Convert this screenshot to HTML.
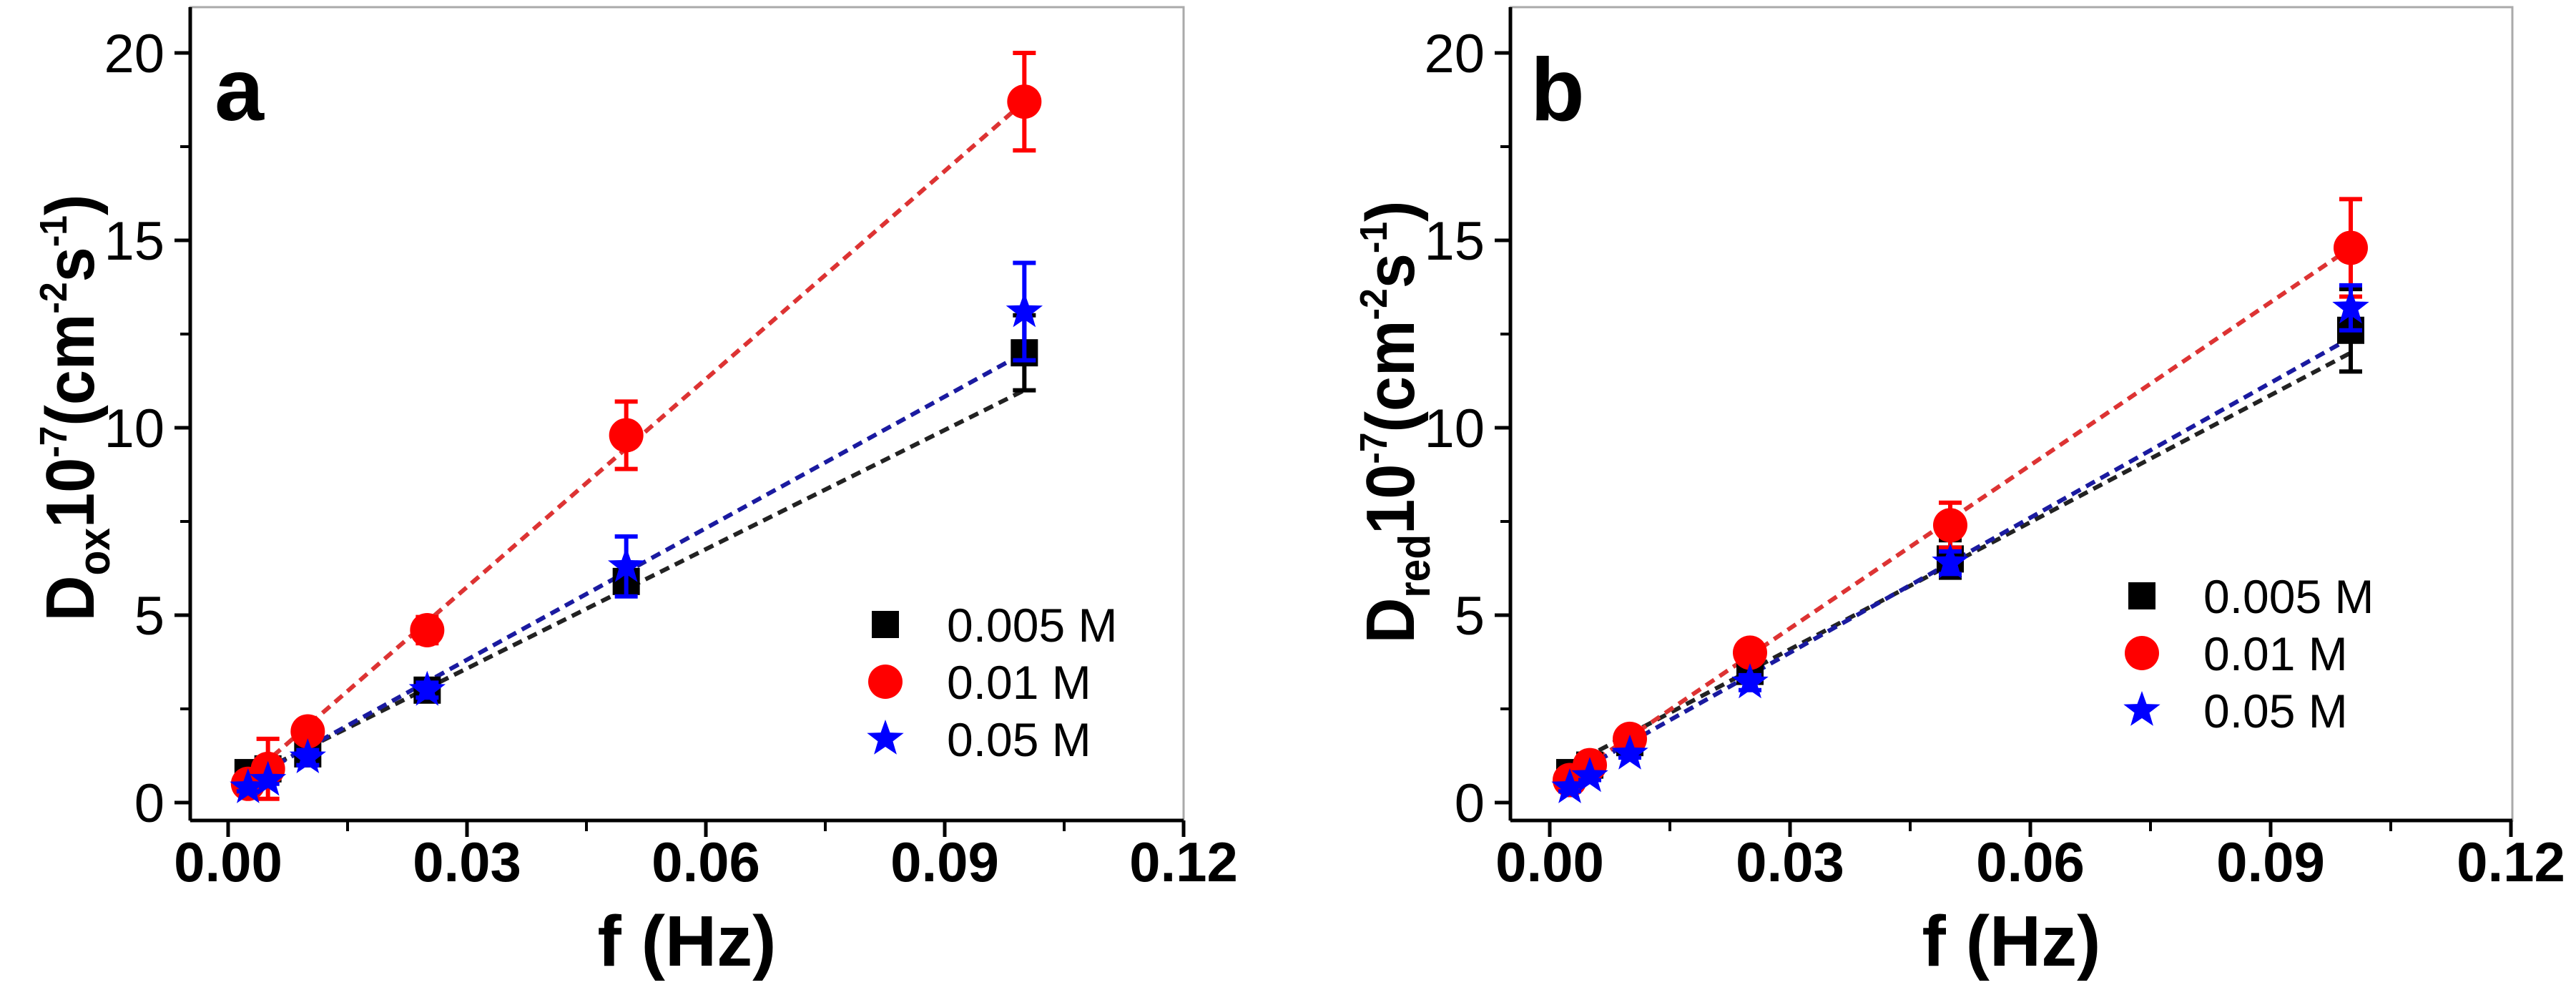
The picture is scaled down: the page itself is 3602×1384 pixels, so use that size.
<!DOCTYPE html>
<html><head><meta charset="utf-8"><style>
html,body{margin:0;padding:0;background:#fff;}
svg{display:block;font-family:"Liberation Sans",Arial,sans-serif;}
</style></head><body>
<svg id="chart" width="3602" height="1384" viewBox="0 0 3602 1384" xmlns="http://www.w3.org/2000/svg"></svg>
<script>
const xTicks=[0,0.03,0.06,0.09,0.12];
const xTickLabels=["0.00","0.03","0.06","0.09","0.12"];
const yTicks=[0,5,10,15,20];
const freqs=[0.0025,0.005,0.01,0.025,0.05,0.1];
const seriesNames=["0.005 M","0.01 M","0.05 M"];
const seriesColors=["#000000","#ff0000","#0000ff"];
const fitColors=["#222222","#dd3333","#1a1aa0"];
// panel a
const aBlack=[0.8,0.9,1.3,3.0,5.9,12.0];
const aBlackErr=[0.1,0.1,0.1,0.2,0.3,1.0];
const aRed=[0.5,0.9,1.9,4.6,9.8,18.7];
const aRedErr=[0.1,0.8,0.2,0.35,0.9,1.3];
const aBlue=[0.4,0.6,1.2,3.0,6.3,13.1];
const aBlueErr=[0.1,0.1,0.2,0.2,0.8,1.3];
const aSlopes=[106,185,117];
const aIntercepts=[0.4,0.2,0.3];
// panel b
const bBlack=[0.8,1.0,1.6,3.5,6.5,12.6];
const bBlackErr=[0.1,0.1,0.1,0.2,0.5,1.1];
const bRed=[0.6,1.0,1.7,4.0,7.4,14.8];
const bRedErr=[0.1,0.1,0.1,0.2,0.6,1.3];
const bBlue=[0.4,0.7,1.3,3.2,6.4,13.2];
const bBlueErr=[0.1,0.1,0.1,0.2,0.3,0.6];
const bSlopes=[113,145,120];
const bIntercepts=[0.7,0.3,0.4];

const NS="http://www.w3.org/2000/svg";
const svg=document.getElementById('chart');
function mk(tag,attrs,parent){const e=document.createElementNS(NS,tag);for(const k in attrs)e.setAttribute(k,attrs[k]);(parent||svg).appendChild(e);return e;}

function panel(cfg){
  const g=mk('g',{});
  
  
  const X=v=>cfg.x0+v/0.03*cfg.xs;
  const Y=v=>1122-v/5*262;
  const fr=mk('rect',{x:cfg.left,y:10,width:cfg.right-cfg.left,height:1147-10,fill:'none',stroke:'#aaa','stroke-width':3},g);
  
  const xa=mk('line',{x1:cfg.left,x2:cfg.right,y1:1147,y2:1147,stroke:'#000','stroke-width':5},g);
  
  const ya=mk('line',{x1:cfg.left,x2:cfg.left,y1:10,y2:1147,stroke:'#000','stroke-width':5},g);
  
  xTicks.forEach((t,i)=>{
    mk('line',{x1:X(t),x2:X(t),y1:1147,y2:1170,stroke:'#000','stroke-width':5},g);
    if(i<xTicks.length-1) mk('line',{x1:X(t+0.015),x2:X(t+0.015),y1:1147,y2:1162,stroke:'#000','stroke-width':4},g);
    const tx=mk('text',{x:X(t),y:1232,'font-size':78,'font-weight':'bold','text-anchor':'middle'},g);
    tx.textContent=xTickLabels[i];
    
  });
  yTicks.forEach((t,i)=>{
    mk('line',{x1:cfg.left-22,x2:cfg.left,y1:Y(t),y2:Y(t),stroke:'#000','stroke-width':5},g);
    if(i<yTicks.length-1) mk('line',{x1:cfg.left-14,x2:cfg.left,y1:Y(t+2.5),y2:Y(t+2.5),stroke:'#000','stroke-width':4},g);
    const tx=mk('text',{x:cfg.left-36,y:Y(t)+27,'font-size':76,'text-anchor':'end'},g);
    tx.textContent=t;
    
  });
  const xt=mk('text',{x:(cfg.left+cfg.right)/2,y:1350,'font-size':100,'font-weight':'bold','text-anchor':'middle'},g);
  xt.textContent='f (Hz)';
  const yt=mk('text',{x:0,y:0,'font-size':96,'font-weight':'bold','text-anchor':'middle',transform:`translate(${cfg.left-135},${cfg.ytc}) rotate(-90) scale(0.92,1)`},g);
  
  yt.innerHTML=`D<tspan font-size="62" dy="22">${cfg.sub}</tspan><tspan dy="-22">10</tspan><tspan font-size="54" dy="-38">-7</tspan><tspan dy="38">(cm</tspan><tspan font-size="54" dy="-38">-2</tspan><tspan dy="38">s</tspan><tspan font-size="54" dy="-38">-1</tspan><tspan dy="38">)</tspan>`;
  const lt=mk('text',{x:cfg.letterX,y:168,'font-size':124,'font-weight':'bold'},g);
  lt.textContent=cfg.letter;
  for(let s=0;s<3;s++){
    const x1=freqs[0],x2=freqs[freqs.length-1];
    const l=mk('line',{x1:X(x1),y1:Y(cfg.slopes[s]*x1+cfg.ints[s]),x2:X(x2),y2:Y(cfg.slopes[s]*x2+cfg.ints[s]),stroke:fitColors[s],'stroke-width':6,'stroke-dasharray':'14 9'},g);
    
  }
  for(let s=0;s<3;s++){
    const vals=cfg.data[s],errs=cfg.errs[s],c=seriesColors[s];
    vals.forEach((v,i)=>{
      const cx=X(freqs[i]),cy=Y(v);
      const eb=mk('path',{d:`M${cx},${Y(v-errs[i])}V${Y(v+errs[i])}M${cx-16},${Y(v-errs[i])}h32M${cx-16},${Y(v+errs[i])}h32`,stroke:c,'stroke-width':6,fill:'none'},g);
      
      const m=marker(s,cx,cy,g);
      
    });
  }
  seriesNames.forEach((n,s)=>{
    const y=cfg.legY+s*80;
    const m=marker(s,cfg.legX,y,g);
    
    const t=mk('text',{x:cfg.legX+86,y:y+24,'font-size':66},g);
    t.textContent=n;
  });
}
function marker(s,cx,cy,g){
  if(s===0) return mk('rect',{x:cx-19,y:cy-19,width:38,height:38,fill:'#000'},g);
  if(s===1) return mk('circle',{cx:cx,cy:cy,r:24,fill:'#ff0000'},g);
  let p='';for(let k=0;k<10;k++){const r=k%2?11:27;const a=-Math.PI/2+k*Math.PI/5;p+=(k?'L':'M')+(cx+r*Math.cos(a)).toFixed(1)+','+(cy+r*Math.sin(a)).toFixed(1);}
  return mk('path',{d:p+'Z',fill:'#0000ff'},g);
}
panel({name:'panel-a',letter:'a',sub:'ox',left:266,right:1655,x0:319,xs:334,ytc:570,letterX:300,legX:1238,legY:873,
  data:[aBlack,aRed,aBlue],errs:[aBlackErr,aRedErr,aBlueErr],slopes:aSlopes,ints:aIntercepts});
panel({name:'panel-b',letter:'b',sub:'red',left:2112,right:3513,x0:2167,xs:336,ytc:590,letterX:2140,legX:2995,legY:833,
  data:[bBlack,bRed,bBlue],errs:[bBlackErr,bRedErr,bBlueErr],slopes:bSlopes,ints:bIntercepts});
</script>
</body></html>
